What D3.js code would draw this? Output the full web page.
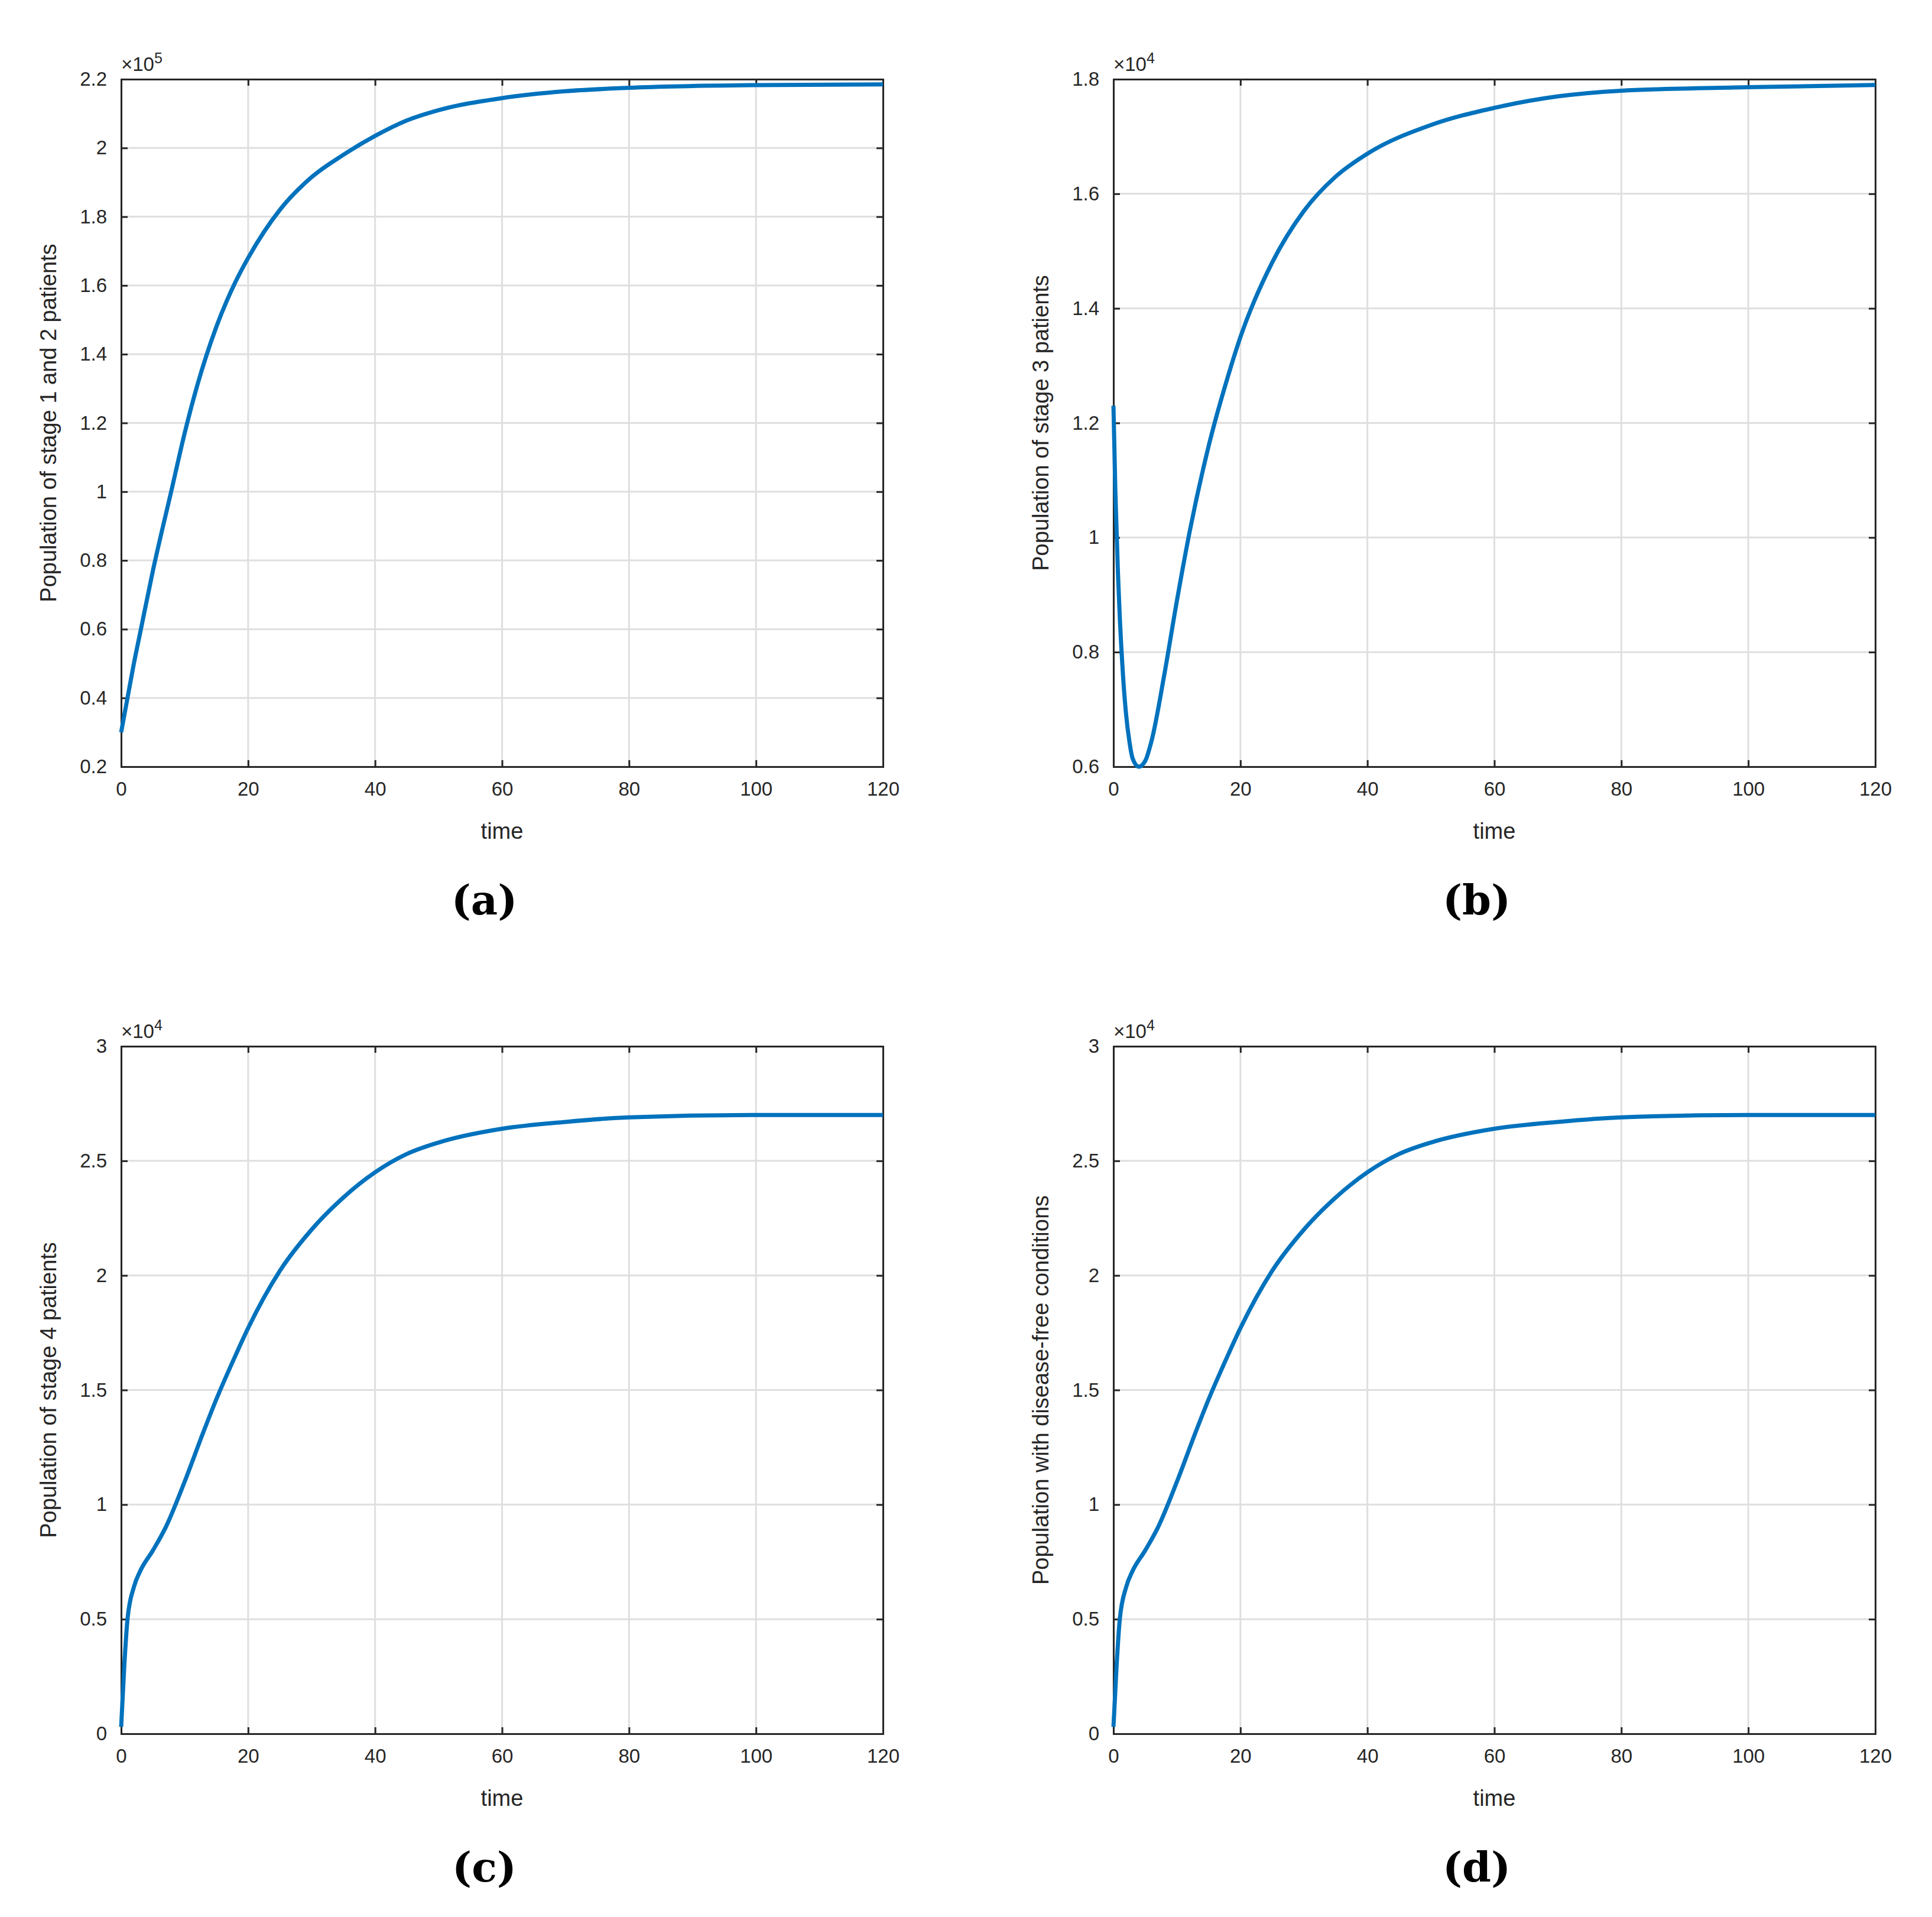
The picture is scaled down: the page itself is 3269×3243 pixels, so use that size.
<!DOCTYPE html>
<html>
<head>
<meta charset="UTF-8" />
<script src="https://d3js.org/d3.v7.min.js"></script>
<style>
  body { margin: 0; background: white; }
  text { font-family: "Liberation Sans Narrow", "Liberation Sans", Arial, sans-serif; fill: #262626; }
</style>
</head>
<body>
<svg id="svg"></svg>
<script>
// data (t in time units, y in scaled units)
var timeA = [0, 1, 2, 3, 5, 8, 10, 12, 15, 18, 20, 25, 30, 35, 40, 45, 50, 60, 70, 80, 100, 120];
var popA  = [0.3, 0.4, 0.5, 0.59, 0.77, 1.01, 1.17, 1.31, 1.48, 1.61, 1.68, 1.82, 1.915, 1.98, 2.035, 2.08, 2.11, 2.145, 2.165, 2.175, 2.183, 2.185];

var timeB = [0, 0.3, 0.7, 1, 1.5, 2, 2.5, 3, 4, 5, 6, 8, 10, 12, 15, 18, 20, 25, 30, 35, 40, 50, 60, 70, 80, 100, 120];
var popB  = [1.23, 1.08, 0.94, 0.86, 0.76, 0.69, 0.645, 0.615, 0.6, 0.61, 0.645, 0.76, 0.89, 1.01, 1.16, 1.28, 1.35, 1.48, 1.57, 1.63, 1.67, 1.72, 1.75, 1.77, 1.78, 1.786, 1.79];

var timeC = [0, 0.5, 1, 2, 3, 5, 7, 10, 13, 15, 18, 20, 25, 30, 35, 40, 45, 50, 60, 70, 80, 100, 120];
var popC  = [0.03, 0.3, 0.5, 0.64, 0.71, 0.8, 0.9, 1.1, 1.32, 1.46, 1.65, 1.77, 2.02, 2.2, 2.34, 2.45, 2.53, 2.58, 2.64, 2.67, 2.69, 2.7, 2.7];
var popD  = [0.03, 0.3, 0.5, 0.64, 0.71, 0.8, 0.9, 1.1, 1.32, 1.46, 1.65, 1.77, 2.02, 2.2, 2.34, 2.45, 2.53, 2.58, 2.64, 2.67, 2.69, 2.7, 2.7];

var xTicks = [0, 20, 40, 60, 80, 100, 120];
var ticksA = [0.2, 0.4, 0.6, 0.8, 1, 1.2, 1.4, 1.6, 1.8, 2, 2.2];
var ticksB = [0.6, 0.8, 1, 1.2, 1.4, 1.6, 1.8];
var ticksCD = [0, 0.5, 1, 1.5, 2, 2.5, 3];

var panels = [
  { t: timeA, y: popA, ticks: ticksA, exp: "5", label: "Population of stage 1 and 2 patients", cap: "(a)", left: 205, top: 134 },
  { t: timeB, y: popB, ticks: ticksB, exp: "4", label: "Population of stage 3 patients", cap: "(b)", left: 1884, top: 134 },
  { t: timeC, y: popC, ticks: ticksCD, exp: "4", label: "Population of stage 4 patients", cap: "(c)", left: 205, top: 1770 },
  { t: timeC, y: popD, ticks: ticksCD, exp: "4", label: "Population with disease-free conditions", cap: "(d)", left: 1884, top: 1770 }
];

var W = 3269, H = 3243, pw = 1289, ph = 1163;
var svg = d3.select("#svg").attr("width", W).attr("height", H);

panels.forEach(function (p) {
  var g = svg.append("g").attr("transform", "translate(" + p.left + "," + p.top + ")");
  var x = d3.scaleLinear().domain([0, 120]).range([0, pw]);
  var y = d3.scaleLinear().domain([p.ticks[0], p.ticks[p.ticks.length - 1]]).range([ph, 0]);

  // grid
  g.selectAll(".gx").data(xTicks).enter().append("line")
    .attr("x1", d => x(d)).attr("x2", d => x(d)).attr("y1", 0).attr("y2", ph)
    .attr("stroke", "#dfdfdf").attr("stroke-width", 3);
  g.selectAll(".gy").data(p.ticks).enter().append("line")
    .attr("y1", d => y(d)).attr("y2", d => y(d)).attr("x1", 0).attr("x2", pw)
    .attr("stroke", "#dfdfdf").attr("stroke-width", 3);

  // axes, ticks inward
  var fmt = d => String(d);
  var ax = [
    d3.axisBottom(x).tickValues(xTicks).tickSize(-11).tickPadding(26).tickFormat(fmt),
    d3.axisTop(x).tickValues(xTicks).tickSize(-11).tickFormat(""),
    d3.axisLeft(y).tickValues(p.ticks).tickSize(-11).tickPadding(24).tickFormat(fmt),
    d3.axisRight(y).tickValues(p.ticks).tickSize(-11).tickFormat("")
  ];
  var tr = ["translate(0," + ph + ")", "", "", "translate(" + pw + ",0)"];
  ax.forEach(function (a, i) {
    var ag = g.append("g").attr("transform", tr[i]).call(a);
    ag.select(".domain").attr("stroke", "#262626").attr("stroke-width", 3);
    ag.selectAll(".tick line").attr("stroke", "#262626").attr("stroke-width", 3);
    ag.selectAll(".tick text").style("font-size", "33px").attr("fill", "#262626");
  });

  // curve
  var line = d3.line().x((d, i) => x(p.t[i])).y(d => y(d)).curve(d3.curveMonotoneX);
  g.append("path").datum(p.y).attr("d", line)
    .attr("fill", "none").attr("stroke", "#0072BD").attr("stroke-width", 7);

  // exponent
  var e = g.append("text").attr("x", 0).attr("y", -14).style("font-size", "33px");
  e.append("tspan").text("\u00d710");
  e.append("tspan").attr("dy", -13).style("font-size", "25px").text(p.exp);

  // labels
  g.append("text").attr("x", pw / 2).attr("y", ph + 122).attr("text-anchor", "middle")
    .style("font-size", "38px").text("time");
  g.append("text").attr("transform", "translate(-110," + ph / 2 + ") rotate(-90)")
    .attr("text-anchor", "middle").style("font-size", "38px").text(p.label);
  g.append("text").attr("x", pw / 2 - 30).attr("y", ph + 250).attr("text-anchor", "middle")
    .style("font-family", "'DejaVu Serif', 'Liberation Serif', serif").style("font-weight", "bold")
    .style("font-size", "70px").style("fill", "#000").text(p.cap);
});
</script>
</body>
</html>
